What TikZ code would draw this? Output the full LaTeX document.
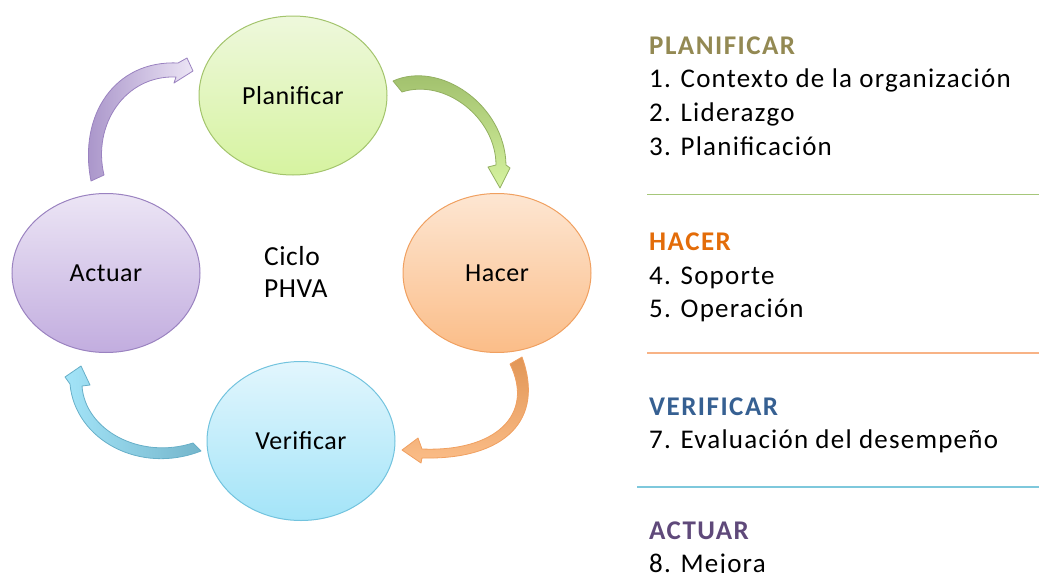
\documentclass[tikz,border=0pt]{standalone}
\usepackage{fontspec}
\setmainfont{Carlito}
\usetikzlibrary{shapes.geometric}
\definecolor{ptop}{HTML}{EEF8DC}\definecolor{pbot}{HTML}{D6F3A0}\definecolor{pline}{HTML}{A3C46C}
\definecolor{htop}{HTML}{FDE6D2}\definecolor{hbot}{HTML}{FBBD88}\definecolor{hline}{HTML}{F0A060}
\definecolor{vtop}{HTML}{E2F6FD}\definecolor{vbot}{HTML}{A3E4F8}\definecolor{vline}{HTML}{72C3DE}
\definecolor{atop}{HTML}{ECE5F5}\definecolor{abot}{HTML}{C2ADDF}\definecolor{aline}{HTML}{9A82C0}
\definecolor{hdP}{HTML}{938953}\definecolor{hdH}{HTML}{E36C09}\definecolor{hdV}{HTML}{366092}\definecolor{hdA}{HTML}{5F497A}
\definecolor{sepG}{HTML}{A6C77A}\definecolor{sepO}{HTML}{F8B386}\definecolor{sepB}{HTML}{7EC8DC}
\tikzset{
  phase/.style={ellipse, minimum width=188pt, minimum height=159pt, inner sep=0pt,
     line width=1pt, font=\fontsize{26}{31}\selectfont\addfontfeatures{LetterSpace=2}},
  heading/.style={anchor=base west, inner sep=0pt, font=\fontsize{27}{33}\selectfont\bfseries\addfontfeatures{LetterSpace=5.5}},
  item/.style={anchor=base west, inner sep=0pt, font=\fontsize{27}{33}\selectfont\addfontfeatures{LetterSpace=4.5}},
  sep/.style={line width=1.6pt},
  cyc/.style={line width=0.8pt, line join=round}
}
\begin{document}
\begin{tikzpicture}[x=1pt,y=-1pt]
\useasboundingbox (0,0) rectangle (1039,573);
% circles
\node[phase, draw=pline, top color=ptop, bottom color=pbot] (plan) at (293,95.5) {Planificar};
\node[phase, draw=hline, top color=htop, bottom color=hbot] (hacer) at (497,273) {Hacer};
\node[phase, draw=vline, top color=vtop, bottom color=vbot] (verif) at (301,441) {Verificar};
\node[phase, draw=aline, top color=atop, bottom color=abot] (actuar) at (106,273) {Actuar};
\node[anchor=west, align=left, inner sep=0pt, font=\fontsize{27.5}{32}\selectfont\addfontfeatures{LetterSpace=2}] (ciclo) at (264,272) {Ciclo\\PHVA};
% purple arrow (Actuar -> Planificar)
\path[cyc, draw=aline, left color=aline!90, right color=atop]
  (91,181) .. controls (78,115) and (115,60) .. (178,63)
  -- (187,58) -- (193,71) -- (174,83) -- (176,77)
  .. controls (125,75) and (92,125) .. (104,175) -- cycle;
% green arrow (Planificar -> Hacer)
\path[cyc, draw=pline!90!black, top color=pline!95!black, bottom color=pbot]
  (393,81) .. controls (440,60) and (505,105) .. (506,165)
  -- (510,168) -- (500,188) -- (488,167) -- (496,165)
  .. controls (496,118) and (445,78) .. (402,92) -- cycle;
% orange arrow (Hacer -> Verificar)
\path[cyc, draw=hline, top color=hline!70!brown, bottom color=hbot]
  (522,357) .. controls (545,420) and (505,460) .. (422,458)
  -- (421,463) -- (402,450) -- (418,438) -- (422,449)
  .. controls (495,452) and (535,415) .. (510,364) -- cycle;
% blue arrow (Verificar -> Actuar)
\path[cyc, draw=vline!90!black, right color=vline!80!gray, left color=vbot]
  (201,451) .. controls (140,475) and (75,440) .. (70,384)
  -- (65,377) -- (81,366) -- (90,385) -- (82,386)
  .. controls (85,430) and (140,460) .. (193,443) -- cycle;
% right column
\node[heading, text=hdP] (hP) at (649,54) {PLANIFICAR};
\node[item] (i1) at (649,87.5) {1. Contexto de la organización};
\node[item] (i2) at (649,121.5) {2. Liderazgo};
\node[item] (i3) at (649,155.5) {3. Planificación};
\draw[sep, sepG] (647,194.5) -- (1039,194.5);
\node[heading, text=hdH] (hH) at (649,250) {HACER};
\node[item] (i4) at (649,284) {4. Soporte};
\node[item] (i5) at (649,317.5) {5. Operación};
\draw[sep, sepO] (647,353) -- (1039,353);
\node[heading, text=hdV] (hV) at (649,415) {VERIFICAR};
\node[item] (i7) at (649,448) {7. Evaluación del desempeño};
\draw[sep, sepB] (637,487) -- (1039,487);
\node[heading, text=hdA] (hA) at (649,539.5) {ACTUAR};
\node[item] (i8) at (649,572) {8. Mejora};
\end{tikzpicture}
\end{document}
